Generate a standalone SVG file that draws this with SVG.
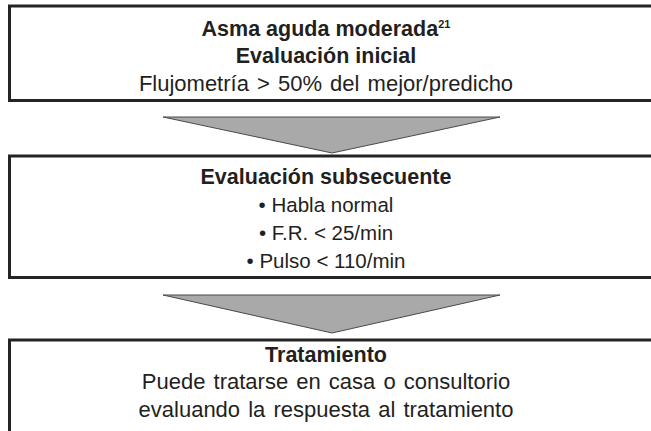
<svg xmlns="http://www.w3.org/2000/svg" width="651" height="431" viewBox="0 0 651 431">
<style>
.box{fill:#fff;stroke:#262324;stroke-width:3}
.arr{fill:#a9a9aa;stroke:#4a4a4a;stroke-width:1;stroke-linejoin:miter}
text{font-family:"Liberation Sans",Arial,sans-serif;font-size:21.5px;fill:#231f20;text-anchor:middle}
.b{font-weight:bold}
.r{font-size:22px;word-spacing:2px}
.s{font-size:20.5px}
</style>
<rect x="0" y="0" width="651" height="431" fill="#fff"/>
<g id="connectors">
<polygon class="arr" points="163,117 500,117 332,153"/>
<polygon class="arr" points="163,295 500,295 332,333"/>
</g>
<g id="node1">
<rect class="box" x="9.5" y="6" width="660" height="94.5"/>
<text class="b" x="326" y="36">Asma aguda moderada<tspan font-size="11" dy="-8">21</tspan></text>
<text class="b" x="326" y="63">Evaluación inicial</text>
<text class="r" x="326" y="91">Flujometría &gt; 50% del mejor/predicho</text>
</g>
<g id="node2">
<rect class="box" x="9.5" y="156" width="660" height="121.5"/>
<text class="b" x="326" y="184">Evaluación subsecuente</text>
<text class="s" x="326" y="212">• Habla normal</text>
<text class="s" x="326" y="240">• F.R. &lt; 25/min</text>
<text class="s" x="326" y="268">• Pulso &lt; 110/min</text>
</g>
<g id="node3">
<rect class="box" x="9.5" y="340" width="660" height="100"/>
<text class="b" x="326" y="362">Tratamiento</text>
<text class="r" x="326" y="389">Puede tratarse en casa o consultorio</text>
<text class="r" x="326" y="417">evaluando la respuesta al tratamiento</text>
</g>
</svg>
